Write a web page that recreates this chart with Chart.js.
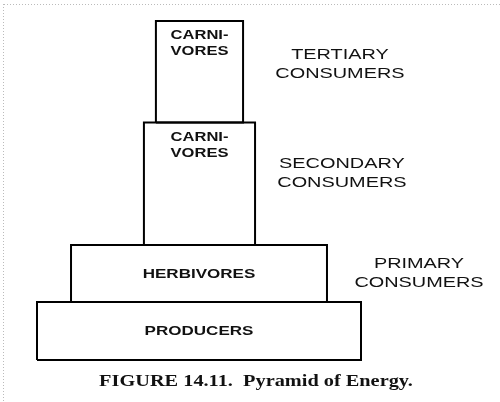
<!DOCTYPE html>
<html>
<head>
<meta charset="utf-8">
<script src="https://cdn.jsdelivr.net/npm/chart.js@4"></script>
<style>
  html, body { margin: 0; padding: 0; background: #fff; }
  #wrap { width: 500px; height: 402px; position: relative; }
</style>
</head>
<body>
<div id="wrap"><canvas id="pyramidChart"></canvas></div>
<script>
// Pyramid of energy - one box per trophic level, bottom to top
const levels = ['PRODUCERS', 'HERBIVORES', 'CARNIVORES', 'CARNIVORES'];
const boxText = [['PRODUCERS'], ['HERBIVORES'], ['CARNI-', 'VORES'], ['CARNI-', 'VORES']];
const trophicNames = [[], ['PRIMARY', 'CONSUMERS'], ['SECONDARY', 'CONSUMERS'], ['TERTIARY', 'CONSUMERS']];

// box extents in pyramid units (producers span 0..100)
const boxLeft = [0, 10.5, 33.0, 36.7];
const boxRight = [100, 89.5, 67.3, 63.6];
const boxBottom = [0, 17.9, 35.5, 73.3];
const boxTop = [17.9, 35.5, 73.3, 104.6];

const caption = 'FIGURE 14.11.  Pyramid of Energy.';

function boxPoints(i) {
    return [
        { x: boxLeft[i], y: boxBottom[i] },
        { x: boxRight[i], y: boxBottom[i] },
        { x: boxRight[i], y: boxTop[i] },
        { x: boxLeft[i], y: boxTop[i] },
        { x: boxLeft[i], y: boxBottom[i] }
    ];
}

// where the side labels and caption sit (pyramid units)
const labelPlacement = {
    side: [null, { x: 117.9, y: 26.6 }, { x: 94.1, y: 57.4 }, { x: 93.5, y: 91.1 }],
    caption: { x: 67.6, y: -6.8 }
};

function drawStretched(ctx, text, x, y, font, stretch) {
    ctx.save();
    ctx.font = font;
    ctx.translate(x, y);
    ctx.scale(stretch, 1);
    ctx.fillText(text, 0, 0);
    ctx.restore();
}

const textPlugin = {
    id: 'pyramidText',
    afterDatasetsDraw(chart) {
        const ctx = chart.ctx;
        const xs = chart.scales.x;
        const ys = chart.scales.y;
        ctx.save();
        ctx.fillStyle = '#111';
        ctx.textAlign = 'center';
        ctx.textBaseline = 'middle';

        // scan border dots
        ctx.strokeStyle = '#bbb';
        ctx.lineWidth = 1;
        ctx.setLineDash([1, 2]);
        ctx.beginPath();
        ctx.moveTo(4, 4.5);
        ctx.lineTo(500, 4.5);
        ctx.moveTo(3.5, 4);
        ctx.lineTo(3.5, 402);
        ctx.stroke();
        ctx.setLineDash([]);

        levels.forEach((name, i) => {
            const cx = xs.getPixelForValue((boxLeft[i] + boxRight[i]) / 2);
            const lines = boxText[i];
            if (lines.length === 1) {
                const cy = ys.getPixelForValue((boxBottom[i] + boxTop[i]) / 2);
                drawStretched(ctx, lines[0], cx, cy + 1, 'bold 12px "Liberation Sans", Arial, sans-serif', 1.42);
            } else {
                const top = ys.getPixelForValue(boxTop[i]);
                lines.forEach((ln, k) => {
                    drawStretched(ctx, ln, cx, top + 15 + k * 16, 'bold 12px "Liberation Sans", Arial, sans-serif', 1.38);
                });
            }

            const side = labelPlacement.side[i];
            if (side) {
                const sx = xs.getPixelForValue(side.x);
                const sy = ys.getPixelForValue(side.y);
                trophicNames[i].forEach((ln, k) => {
                    drawStretched(ctx, ln, sx, sy + (k - 0.5) * 19, '14px "Liberation Sans", Arial, sans-serif', 1.42);
                });
            }
        });

        const cp = labelPlacement.caption;
        drawStretched(ctx, caption, xs.getPixelForValue(cp.x), ys.getPixelForValue(cp.y),
            'bold 16px "Liberation Serif", "Times New Roman", serif', 1.27);
        ctx.restore();
    }
};

new Chart(document.getElementById('pyramidChart'), {
    type: 'scatter',
    data: {
        datasets: levels.map((name, i) => ({
            label: name,
            data: boxPoints(i),
            showLine: true,
            fill: false,
            borderColor: '#000',
            borderWidth: 2,
            borderJoinStyle: 'miter',
            pointRadius: 0,
            tension: 0
        }))
    },
    options: {
        responsive: true,
        maintainAspectRatio: false,
        animation: false,
        layout: { padding: 0 },
        plugins: {
            legend: { display: false },
            tooltip: { enabled: false }
        },
        scales: {
            x: { type: 'linear', min: -11.42, max: 142.9, display: false },
            y: { type: 'linear', min: -12.96, max: 111.1, display: false }
        }
    },
    plugins: [textPlugin]
});
</script>
</body>
</html>
